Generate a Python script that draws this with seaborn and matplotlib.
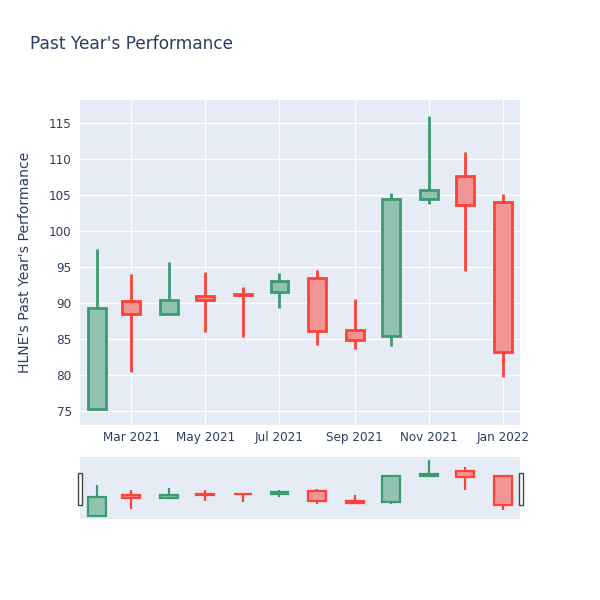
import matplotlib
matplotlib.use("Agg")
import matplotlib.pyplot as plt
import matplotlib.dates as mdates
import matplotlib.patches as mpatches
import seaborn as sns
import pandas as pd
import numpy as np

dates = ["2021-02-01", "2021-03-01", "2021-04-01", "2021-05-01", "2021-06-01", "2021-07-01",
         "2021-08-01", "2021-09-01", "2021-10-01", "2021-11-01", "2021-12-01", "2022-01-01"]
open_ = [75.3, 90.3, 88.5, 91.0, 91.3, 91.6, 93.5, 86.3, 85.4, 104.5, 107.7, 104.1]
high = [97.5, 94.0, 95.7, 94.3, 92.3, 94.2, 94.6, 90.6, 105.3, 116.0, 111.0, 105.2]
low = [75.2, 80.5, 88.5, 86.0, 85.3, 89.4, 84.2, 83.7, 84.0, 103.7, 94.5, 79.8]
close = [89.4, 88.5, 90.5, 90.4, 91.1, 93.1, 86.2, 84.9, 104.5, 105.7, 103.6, 83.2]
yticks = [75, 80, 85, 90, 95, 100, 105, 110, 115]
xticks = ["2021-03-01", "2021-05-01", "2021-07-01", "2021-09-01", "2021-11-01", "2022-01-01"]

df = pd.DataFrame({"date": pd.to_datetime(dates), "open": open_, "high": high,
                   "low": low, "close": close})

INC = "#3D9970"
DEC = "#FF4136"
BG = "#E5ECF6"
TXT = "#2a3f5f"

sns.set_theme(style="darkgrid", rc={"axes.facecolor": BG, "grid.color": "white",
                                     "grid.linewidth": 1.0, "axes.edgecolor": BG})
plt.rcParams["font.family"] = ["DejaVu Sans"]

fig = plt.figure(figsize=(6, 6), dpi=100)
ax = fig.add_axes([80/600, 1-425/600, 440/600, 325/600])
axs = fig.add_axes([80/600, 1-519/600, 440/600, 62/600])

xnum = mdates.date2num(df["date"])
width = 14.5


def draw(a, lw):
    for x, o, h, l, c in zip(xnum, df["open"], df["high"], df["low"], df["close"]):
        col = INC if c >= o else DEC
        a.vlines(x, l, h, color=col, linewidth=lw, zorder=2)
        lo, hi = min(o, c), max(o, c)
        a.bar(x, hi - lo, width=width, bottom=lo, facecolor=matplotlib.colors.to_rgba(col, 0.5),
              edgecolor=col, linewidth=lw, zorder=3)
        a.bar(x, hi - lo, width=width, bottom=lo, facecolor=BG, edgecolor="none", zorder=2.5)


draw(ax, 2)
draw(axs, 1.6)

xmin = mdates.date2num(pd.Timestamp("2021-01-18"))
xmax = mdates.date2num(pd.Timestamp("2022-01-15"))
ax.set_xlim(xmin, xmax)
axs.set_xlim(xmin, xmax)
ax.set_ylim(73.1, 118.2)
axs.set_ylim(73.1, 118.2)

ax.set_yticks(yticks)
ax.set_yticklabels([str(v) for v in yticks])
ax.set_xticks(mdates.date2num(pd.to_datetime(xticks)))
ax.set_xticklabels([pd.Timestamp(t).strftime("%b %Y") for t in xticks])
ax.tick_params(axis="both", length=0, labelsize=8.64, labelcolor=TXT, pad=6)
ax.tick_params(axis="x", pad=4)
for s in ax.spines.values():
    s.set_visible(False)
ax.set_ylabel("HLNE's Past Year's Performance", fontsize=10.08, color=TXT, labelpad=12)
ax.grid(True, color="white", linewidth=1.0)
ax.set_axisbelow(True)

axs.grid(False)
axs.set_xticks([])
axs.set_yticks([])
for s in axs.spines.values():
    s.set_visible(False)

for hx in (77.5, 518.5):
    fig.patches.append(mpatches.Rectangle((hx/600, 1-505/600), 4/600, 32/600,
                                          transform=fig.transFigure, facecolor="white",
                                          edgecolor="#444444", linewidth=1.0))

fig.text(30/600, 1-44/600, "Past Year's Performance", fontsize=12.24, color=TXT,
         ha="left", va="center")

fig.savefig("out.png", dpi=100, facecolor="white")
